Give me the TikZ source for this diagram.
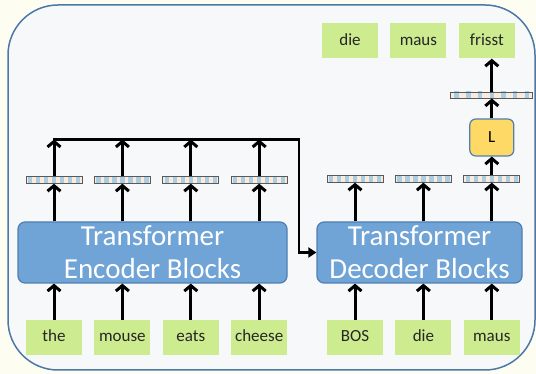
\documentclass[tikz,border=0pt]{standalone}
\usepackage{fontspec}
\setmainfont{Carlito}
\usepackage{tikz}
\usetikzlibrary{positioning,arrows.meta,calc}
\usepackage{xcolor}
\definecolor{pagebg}{HTML}{FEFDF1}
\definecolor{framefill}{HTML}{F7F8FA}
\definecolor{frameedge}{HTML}{4C78A8}
\definecolor{wordgreen}{HTML}{CDEB8F}
\definecolor{blockblue}{HTML}{70A3D6}
\definecolor{blockedge}{HTML}{4F7FB3}
\definecolor{layyellow}{HTML}{FFD966}
\definecolor{vecpeach}{HTML}{FBEBDC}
\definecolor{vecblue}{HTML}{A9CDE3}

\begin{document}
\begin{tikzpicture}[x=1pt, y=1pt,
    word/.style={fill=wordgreen, minimum width=56pt, minimum height=35pt, inner sep=0pt, text height=12pt, text depth=3pt, text=black!85, font=\fontsize{17}{20}\selectfont},
    tblock/.style={draw=blockedge, line width=1.2pt, fill=blockblue, rounded corners=7pt, text=white, align=center, inner sep=0pt, minimum height=61pt, font=\fontsize{29}{33}\selectfont},
    lbox/.style={draw=blockedge, line width=1.2pt, fill=layyellow, rounded corners=6pt, minimum width=44pt, minimum height=37pt, inner sep=0pt, font=\fontsize{17}{20}\selectfont},
    vec/.style={draw=black!65, line width=0.9pt, fill=vecpeach, minimum width=56pt, minimum height=6.5pt, inner sep=0pt,
        path picture={\foreach \k in {0,...,6}{\fill[vecblue] ($(path picture bounding box.south west)!{(\k+0.5)/7}!(path picture bounding box.south east)$) ++(-2.2pt,0) rectangle ++(4.4pt,10pt);}}},
    arrow/.style={-{Straight Barb[length=5.5pt, width=13pt]}, line width=3pt},
    link/.style={-{Triangle[length=8pt, width=10pt]}, line width=2.4pt},
]
% page and rounded frame
\fill[pagebg] (0,0) rectangle (536,374);
\useasboundingbox (0,0) rectangle (536,374);
\draw[frameedge, line width=1.5pt, fill=framefill, rounded corners=50pt] (8,4) rectangle (535,369);

% input words
\node[word] (the) at (54,36.5) {the};
\node[word, right=12pt of the] (mouse) {mouse};
\node[word, right=12pt of mouse] (eats) {eats};
\node[word, right=12pt of eats] (cheese) {cheese};
\node[word] (bos) at (355,36.5) {BOS};
\node[word, right=12pt of bos] (die) {die};
\node[word, right=12pt of die] (maus) {maus};

% encoder / decoder stacks
\node[tblock, minimum width=269pt] (enc) at (152.5,121.5) {Transformer\\Encoder Blocks};
\node[tblock, minimum width=205pt] (dec) at (419.5,121.5) {Transformer\\Decoder Blocks};

% encoder outputs collected on a bus into the decoder
\coordinate (bus) at (54,234.5);
\coordinate (busend) at (299,234.5);
\foreach \w/\i in {the/1,mouse/2,eats/3,cheese/4} {
    \draw[arrow] (\w.north) -- (\w.north |- enc.south);
    \node[vec] (eb\i) at (\w |- 0,194) {};
    \draw[arrow] (eb\i.south |- enc.north) -- (eb\i.south);
    \draw[arrow] (eb\i.north) -- (eb\i.north |- bus);
}
\draw[link, line cap=rect] (bus) -- (busend) |- (dec.west);

% decoder outputs
\foreach \w/\i in {bos/1,die/2,maus/3} {
    \draw[arrow] (\w.north) -- (\w.north |- dec.south);
    \node[vec] (db\i) at (\w |- 0,195) {};
    \draw[arrow] (db\i.south |- dec.north) -- (db\i.south);
}
\node[lbox] (lay) at (db3 |- 0,236.5) {L};
\node[vec, minimum width=82pt, minimum height=6pt] (top) at (lay |- 0,279) {};
\draw[arrow] (db3.north) -- (lay.south);
\draw[arrow] (lay.north) -- (top.south);

% predicted words
\node[word] (odie) at (350,333) {die};
\node[word, right=12pt of odie] (omaus) {maus};
\node[word, right=12pt of omaus] (frisst) {frisst};
\draw[arrow] (top.north) -- (top.north |- frisst.south);
\end{tikzpicture}
\end{document}
